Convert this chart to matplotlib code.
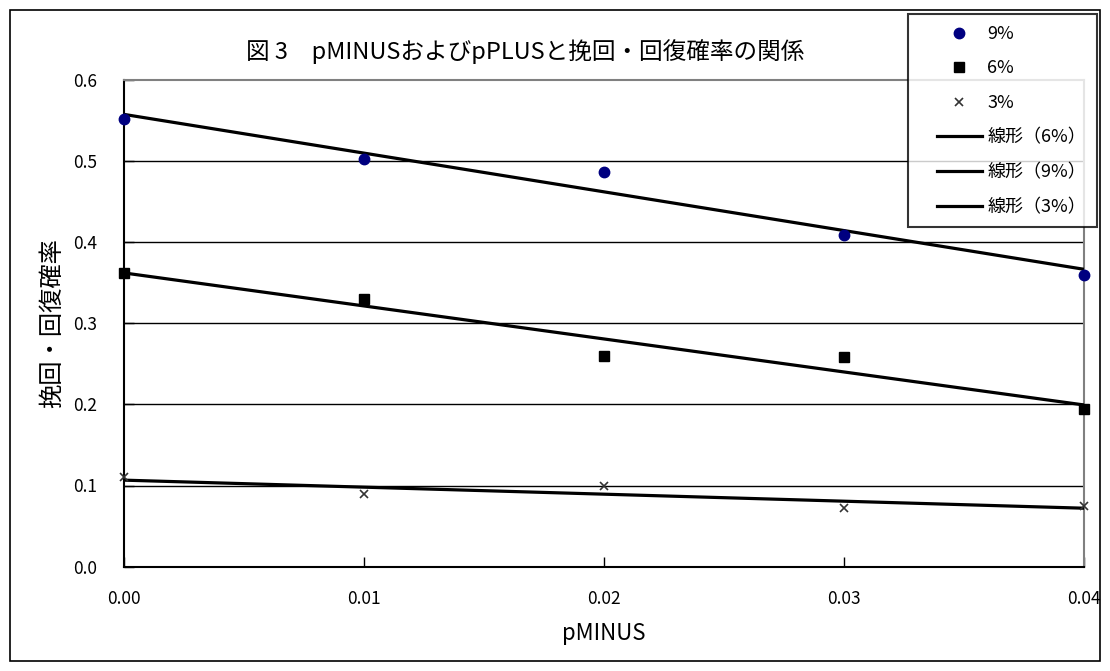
import numpy as np
import matplotlib
matplotlib.use("Agg")
import matplotlib.pyplot as plt
from matplotlib.patches import Rectangle
from matplotlib.lines import Line2D
from matplotlib.legend_handler import HandlerLine2D

plt.rcParams['font.family'] = ['Noto Sans CJK JP', 'DejaVu Sans']

x = [0.00, 0.01, 0.02, 0.03, 0.04]
y9 = [0.552, 0.5025, 0.487, 0.409, 0.360]
y6 = [0.3615, 0.330, 0.260, 0.258, 0.194]
y3 = [0.110, 0.089, 0.100, 0.0725, 0.075]
xticks = [0.00, 0.01, 0.02, 0.03, 0.04]
xtick_labels = ["0.00", "0.01", "0.02", "0.03", "0.04"]
yticks = [0.0, 0.1, 0.2, 0.3, 0.4, 0.5, 0.6]
ytick_labels = ["0.0", "0.1", "0.2", "0.3", "0.4", "0.5", "0.6"]

fig = plt.figure(figsize=(11.1, 6.71), dpi=100)
ax = fig.add_axes([124/1110, 1-566.6/671, (1084-124)/1110, (566.6-80)/671])

xa = np.array(x)
def fit(yv):
    c = np.polyfit(xa, np.array(yv), 1)
    return np.polyval(c, xa)

h9, = ax.plot(x, y9, 'o', color='#000080', markersize=7.5, linestyle='none', clip_on=False, zorder=5, label='9%')
h6, = ax.plot(x, y6, 's', color='black', markersize=7, linestyle='none', clip_on=False, zorder=5, label='6%')
h3, = ax.plot(x, y3, 'x', color='#333333', markersize=6, markeredgewidth=1.2, linestyle='none', clip_on=False, zorder=5, label='3%')
l6, = ax.plot(x, fit(y6), '-', color='black', linewidth=2.3, zorder=4, label='線形（6%）')
l9, = ax.plot(x, fit(y9), '-', color='black', linewidth=2.3, zorder=4, label='線形（9%）')
l3, = ax.plot(x, fit(y3), '-', color='black', linewidth=2.3, zorder=4, label='線形（3%）')

ax.set_xlim(0, 0.04)
ax.set_ylim(0, 0.6)
ax.set_xticks(xticks)
ax.set_xticklabels(xtick_labels)
ax.set_yticks(yticks)
ax.set_yticklabels(ytick_labels)
ax.tick_params(axis='both', direction='in', length=7, width=1, labelsize=12.5, color='black')
ax.tick_params(axis='x', pad=17)
ax.tick_params(axis='y', pad=19)
for yv in yticks[1:-1]:
    ax.axhline(yv, color='black', linewidth=1, zorder=1)

ax.spines['left'].set_color('black')
ax.spines['left'].set_linewidth(1.5)
ax.spines['bottom'].set_color('black')
ax.spines['bottom'].set_linewidth(1.5)
ax.spines['top'].set_color('#808080')
ax.spines['top'].set_linewidth(1.5)
ax.spines['right'].set_color('#808080')
ax.spines['right'].set_linewidth(1.5)

ax.set_xlabel('pMINUS', fontsize=16, labelpad=10)
ax.set_ylabel('挽回・回復確率', fontsize=17.5, labelpad=6)
fig.text(525/1110, 1-52/671, '図 3　pMINUSおよびpPLUSと挽回・回復確率の関係', fontsize=17, ha='center', va='center')

leg = fig.legend(handles=[h9, h6, h3, l6, l9, l3], loc='upper left',
                 bbox_to_anchor=(908/1110, 1-14/671), bbox_transform=fig.transFigure,
                 fontsize=13, frameon=True, fancybox=False, edgecolor='black',
                 labelspacing=0.92, handlelength=3.5, handletextpad=0.28, borderpad=0.6,
                 borderaxespad=0, handler_map={Line2D: HandlerLine2D(xpad=1.0)})
leg.get_frame().set_linewidth(1.5)

fig.patches.append(Rectangle((10/1110, 1-661/671), 1090/1110, 651/671, transform=fig.transFigure,
                             fill=False, edgecolor='black', linewidth=1.2))

fig.savefig('out.png', dpi=100)
